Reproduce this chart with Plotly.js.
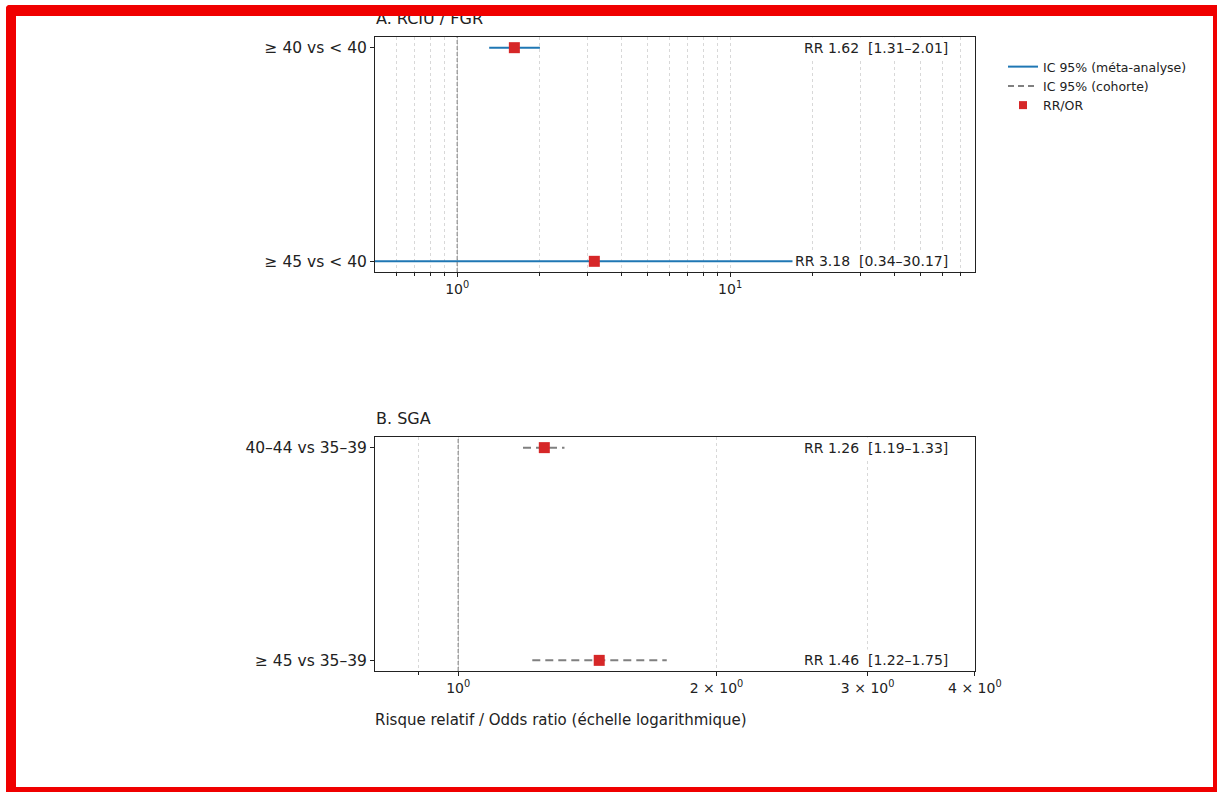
<!DOCTYPE html>
<html><head><meta charset="utf-8">
<script src="https://cdn.plot.ly/plotly-3.0.1.min.js"></script>
<style>
html,body{margin:0;padding:0;background:#fff;overflow:hidden}
#chart{width:1218px;height:792px}
.fr{position:absolute;background:#f00000;pointer-events:none;z-index:10}
</style></head><body>
<div id="chart"></div>
<div class="fr" style="left:6px;top:5px;width:10px;height:787px;border-top-left-radius:4px"></div>
<div class="fr" style="left:6px;top:5px;width:1211px;height:11px;border-top-left-radius:4px;border-top-right-radius:2px"></div>
<div class="fr" style="left:1213px;top:5px;width:4px;height:787px"></div>
<div class="fr" style="left:6px;top:787px;width:1211px;height:5px"></div>
<script>
// Panel A: RCIU / FGR (méta-analyse)
const catsA = ['≥ 40 vs < 40', '≥ 45 vs < 40'];
const rrA = [1.62, 3.18];
const loA = [1.31, 0.34];
const hiA = [2.01, 30.17];
// Panel B: SGA (cohorte)
const catsB = ['40–44 vs 35–39', '≥ 45 vs 35–39'];
const rrB = [1.26, 1.46];
const loB = [1.19, 1.22];
const hiB = [1.33, 1.75];
// tick labels
const tickValsA = [1, 10];
const tickTextA = ['10<sup>0</sup>', '10<sup>1</sup>'];
const minorA = [0.6, 0.7, 0.8, 0.9, 2, 3, 4, 5, 6, 7, 8, 9, 20, 30, 40, 50, 60, 70];
const tickValsB = [1, 2, 3, 4];
const tickTextB = ['10<sup>0</sup>', '2 × 10<sup>0</sup>', '3 × 10<sup>0</sup>', '4 × 10<sup>0</sup>'];
const minorB = [0.9];
const legendNames = ['IC 95% (méta-analyse)', 'IC 95% (cohorte)', 'RR/OR'];

const BLUE = '#1f77b4', RED = '#d62728', GRAY = '#808080';
const W = 1218, H = 792;
const px = v => v / W, py = v => 1 - v / H;

const traces = [];
catsA.forEach((c, i) => {
  traces.push({x: [loA[i], hiA[i]], y: [i, i], xaxis: 'x', yaxis: 'y', mode: 'lines',
    line: {color: BLUE, width: 2}, showlegend: false, hoverinfo: 'skip'});
});
catsB.forEach((c, i) => {
  traces.push({x: [loB[i], hiB[i]], y: [i, i], xaxis: 'x2', yaxis: 'y2', mode: 'lines',
    line: {color: GRAY, width: 2, dash: '8px,5px'}, showlegend: false, hoverinfo: 'skip'});
});
traces.push({x: rrA, y: catsA.map((c, i) => i), xaxis: 'x', yaxis: 'y', mode: 'markers',
  marker: {symbol: 'square', color: RED, size: 11}, showlegend: false});
traces.push({x: rrB, y: catsB.map((c, i) => i), xaxis: 'x2', yaxis: 'y2', mode: 'markers',
  marker: {symbol: 'square', color: RED, size: 11}, showlegend: false});
// legend-only entries
traces.push({x: [null], y: [null], xaxis: 'x', yaxis: 'y', mode: 'lines', name: legendNames[0],
  line: {color: BLUE, width: 2}});
traces.push({x: [null], y: [null], xaxis: 'x', yaxis: 'y', mode: 'lines', name: legendNames[1],
  line: {color: GRAY, width: 2, dash: '6px,4px'}});
traces.push({x: [null], y: [null], xaxis: 'x', yaxis: 'y', mode: 'markers', name: legendNames[2],
  marker: {symbol: 'square', color: RED, size: 8}});

const f2 = v => v.toFixed(2);
const annots = [];
catsA.forEach((c, i) => annots.push({xref: 'paper', yref: 'y', x: px(951), y: i, xanchor: 'right', yanchor: 'middle',
  text: 'RR ' + f2(rrA[i]) + '\u00a0\u00a0[' + f2(loA[i]) + '–' + f2(hiA[i]) + ']', showarrow: false,
  bgcolor: '#ffffff', borderpad: 2, font: {size: 14}}));
catsB.forEach((c, i) => annots.push({xref: 'paper', yref: 'y2', x: px(951), y: i, xanchor: 'right', yanchor: 'middle',
  text: 'RR ' + f2(rrB[i]) + '\u00a0\u00a0[' + f2(loB[i]) + '–' + f2(hiB[i]) + ']', showarrow: false,
  bgcolor: '#ffffff', borderpad: 2, font: {size: 14}}));
annots.push({xref: 'paper', yref: 'paper', x: px(374), y: py(30), xanchor: 'left', yanchor: 'bottom',
  text: 'A. RCIU / FGR', showarrow: false, font: {size: 16}});
annots.push({xref: 'paper', yref: 'paper', x: px(374), y: py(430), xanchor: 'left', yanchor: 'bottom',
  text: 'B. SGA', showarrow: false, font: {size: 16}});
annots.push({xref: 'paper', yref: 'paper', x: px(373), y: py(731), xanchor: 'left', yanchor: 'bottom',
  text: 'Risque relatif / Odds ratio (échelle logarithmique)', showarrow: false, font: {size: 15}});

const xCommon = {type: 'log', showline: true, mirror: true, linecolor: '#222', linewidth: 1,
  ticks: 'outside', ticklen: 4, tickcolor: '#222', tickmode: 'array', showgrid: true,
  gridcolor: '#d8d8d8', griddash: 'dot', gridwidth: 1, zeroline: false, tickfont: {size: 14}};
const yCommon = {showline: true, mirror: true, linecolor: '#222', linewidth: 1, ticks: 'outside', ticklen: 4,
  tickcolor: '#222', tickmode: 'array', tickvals: [0, 1], showgrid: false, zeroline: false,
  range: [1.05, -0.05], tickfont: {size: 15.5}};

const layout = {
  width: W, height: H, margin: {l: 0, r: 0, t: 0, b: 0},
  paper_bgcolor: '#fff', plot_bgcolor: '#fff',
  font: {family: 'DejaVu Sans', size: 13, color: '#222'},
  xaxis: Object.assign({}, xCommon, {domain: [px(375), px(975)], anchor: 'y',
    range: [Math.log10(0.5), 1.897], tickvals: tickValsA, ticktext: tickTextA,
    minor: {tickmode: 'array', tickvals: minorA, ticks: 'outside', ticklen: 2.5, tickcolor: '#222',
      showgrid: true, gridcolor: '#d8d8d8', griddash: 'dot', gridwidth: 1}}),
  yaxis: Object.assign({}, yCommon, {domain: [py(272), py(37)], anchor: 'x', ticktext: catsA}),
  xaxis2: Object.assign({}, xCommon, {domain: [px(375), px(975)], anchor: 'y2',
    range: [Math.log10(0.8), 0.6022], tickvals: tickValsB, ticktext: tickTextB,
    minor: {tickmode: 'array', tickvals: minorB, ticks: 'outside', ticklen: 2.5, tickcolor: '#222',
      showgrid: true, gridcolor: '#d8d8d8', griddash: 'dot', gridwidth: 1}}),
  yaxis2: Object.assign({}, yCommon, {domain: [py(671), py(437)], anchor: 'x2', ticktext: catsB}),
  shapes: [
    {type: 'line', xref: 'x', yref: 'y domain', x0: 1, x1: 1, y0: 0, y1: 1, line: {color: '#777', width: 1, dash: '4px,2px'}},
    {type: 'line', xref: 'x2', yref: 'y2 domain', x0: 1, x1: 1, y0: 0, y1: 1, line: {color: '#777', width: 1, dash: '4px,2px'}}
  ],
  legend: {x: px(1003), y: py(52), xanchor: 'left', yanchor: 'top', bgcolor: 'rgba(0,0,0,0)',
    font: {size: 12.5}, tracegroupgap: 0},
  annotations: annots,
  showlegend: true
};

Plotly.newPlot('chart', traces, layout, {displayModeBar: false, staticPlot: true});
</script>
</body></html>
